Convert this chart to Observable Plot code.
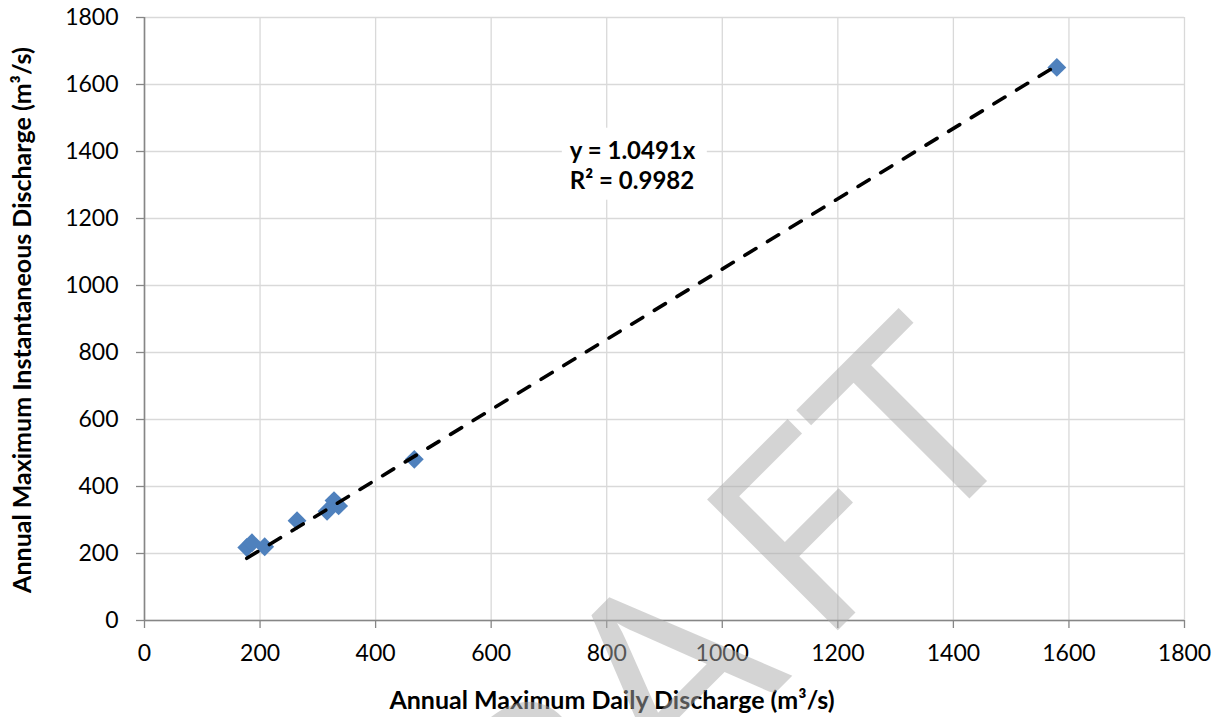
<!DOCTYPE html>
<html>
<head>
<meta charset="utf-8">
<script src="https://cdn.jsdelivr.net/npm/d3@7"></script>
<script src="https://cdn.jsdelivr.net/npm/@observablehq/plot@0.6"></script>
<style>
  html, body { margin: 0; padding: 0; background: #fff; }
  #chart svg { display: block; }
</style>
</head>
<body>
<div id="chart"></div>
<script>
// ---- data ----
const dailyDischarge = [177, 186, 208, 264, 316, 328, 336, 467, 1579];
const instantDischarge = [218, 232, 220, 298, 326, 358, 342, 481, 1651];
const trendSlope = 1.0491;
const equationLines = ["y = 1.0491x", "R² = 0.9982"];
const equationAnchor = [737, 1377]; // data units (x, y) of label's first baseline
const xTicks = [0, 200, 400, 600, 800, 1000, 1200, 1400, 1600, 1800];
const yTicks = [0, 200, 400, 600, 800, 1000, 1200, 1400, 1600, 1800];
const xTitle = "Annual Maximum Daily Discharge (m³/s)";
const yTitle = "Annual Maximum Instantaneous Discharge (m³/s)";
const watermarkLetters = ["D", "R", "A", "F", "T"];

const points = dailyDischarge.map((x, i) => ({x, y: instantDischarge[i]}));
const xMin = d3.min(dailyDischarge), xMax = d3.max(dailyDischarge);
const trend = [{x: xMin, y: trendSlope * xMin}, {x: xMax, y: trendSlope * xMax}];

const W = 1217, H = 717;
const mL = 144, mR = 33, mT = 17, mB = 97;
const axisGray = "#868686";
const gridGray = "#d9d9d9";
const FONT = "Lato, 'Open Sans', sans-serif";

const chart = Plot.plot({
  width: W, height: H,
  marginLeft: mL, marginRight: mR, marginTop: mT, marginBottom: mB,
  style: {fontFamily: FONT, fontSize: "23px", color: "#000", background: "#fff"},
  x: {domain: [0, 1800], nice: false},
  y: {domain: [0, 1800], nice: false},
  marks: [
    Plot.gridX(xTicks, {stroke: gridGray, strokeOpacity: 1, strokeWidth: 1.3}),
    Plot.gridY(yTicks, {stroke: gridGray, strokeOpacity: 1, strokeWidth: 1.3}),
    Plot.ruleX([0], {stroke: axisGray, strokeWidth: 1.6}),
    Plot.ruleY([0], {stroke: axisGray, strokeWidth: 1.6}),
    Plot.axisX(xTicks, {tickSize: 8, tickPadding: 16, fontSize: 23, stroke: axisGray, strokeWidth: 1.3, fill: "#000", tickFormat: d => String(d), label: null}),
    Plot.axisY(yTicks, {tickSize: 8, tickPadding: 18, fontSize: 23, stroke: axisGray, strokeWidth: 1.3, fill: "#000", tickFormat: d => String(d), label: null}),
    Plot.dot(points, {x: "x", y: "y", symbol: "diamond2", r: 8.5, fill: "#4f81bd", stroke: "none"}),
    Plot.line(trend, {x: "x", y: "y", stroke: "#000", strokeWidth: 3.6, strokeDasharray: "13,13.5", strokeLinecap: "round"})
  ]
});

document.getElementById("chart").appendChild(chart);

const svg = d3.select(chart);
const sx = chart.scale("x"), sy = chart.scale("y");

// equation label with white box
const ex = sx.apply(equationAnchor[0]), ey = sy.apply(equationAnchor[1]);
const eg = svg.append("g").attr("text-anchor", "start");
eg.append("rect").attr("x", ex - 8).attr("y", ey - 31).attr("width", 145).attr("height", 72).attr("fill", "#fff");
equationLines.forEach((t, i) => {
  eg.append("text").attr("x", ex).attr("y", ey + i * 30)
    .attr("font-family", FONT).attr("font-weight", "bold").attr("font-size", 24)
    .attr("fill", "#000").text(t);
});

// axis titles
svg.append("text")
  .attr("x", 612).attr("y", 709)
  .attr("text-anchor", "middle")
  .attr("font-family", FONT).attr("font-weight", "bold").attr("font-size", 25)
  .attr("fill", "#000").text(xTitle);

svg.append("text")
  .attr("transform", `translate(31, 320) rotate(-90)`)
  .attr("text-anchor", "middle")
  .attr("font-family", FONT).attr("font-weight", "bold").attr("font-size", 25)
  .attr("fill", "#000").text(yTitle);

// watermark
const wm = svg.append("text")
  .attr("transform", "translate(1032, 436) rotate(-45)")
  .attr("text-anchor", "end")
  .attr("font-family", FONT).attr("font-size", 258)
  .attr("fill", "#aaa").attr("fill-opacity", 0.5);
watermarkLetters.forEach(l => {
  wm.append("tspan").attr("dx", l === "F" ? 40 : 0).text(l);
});
</script>
</body>
</html>
